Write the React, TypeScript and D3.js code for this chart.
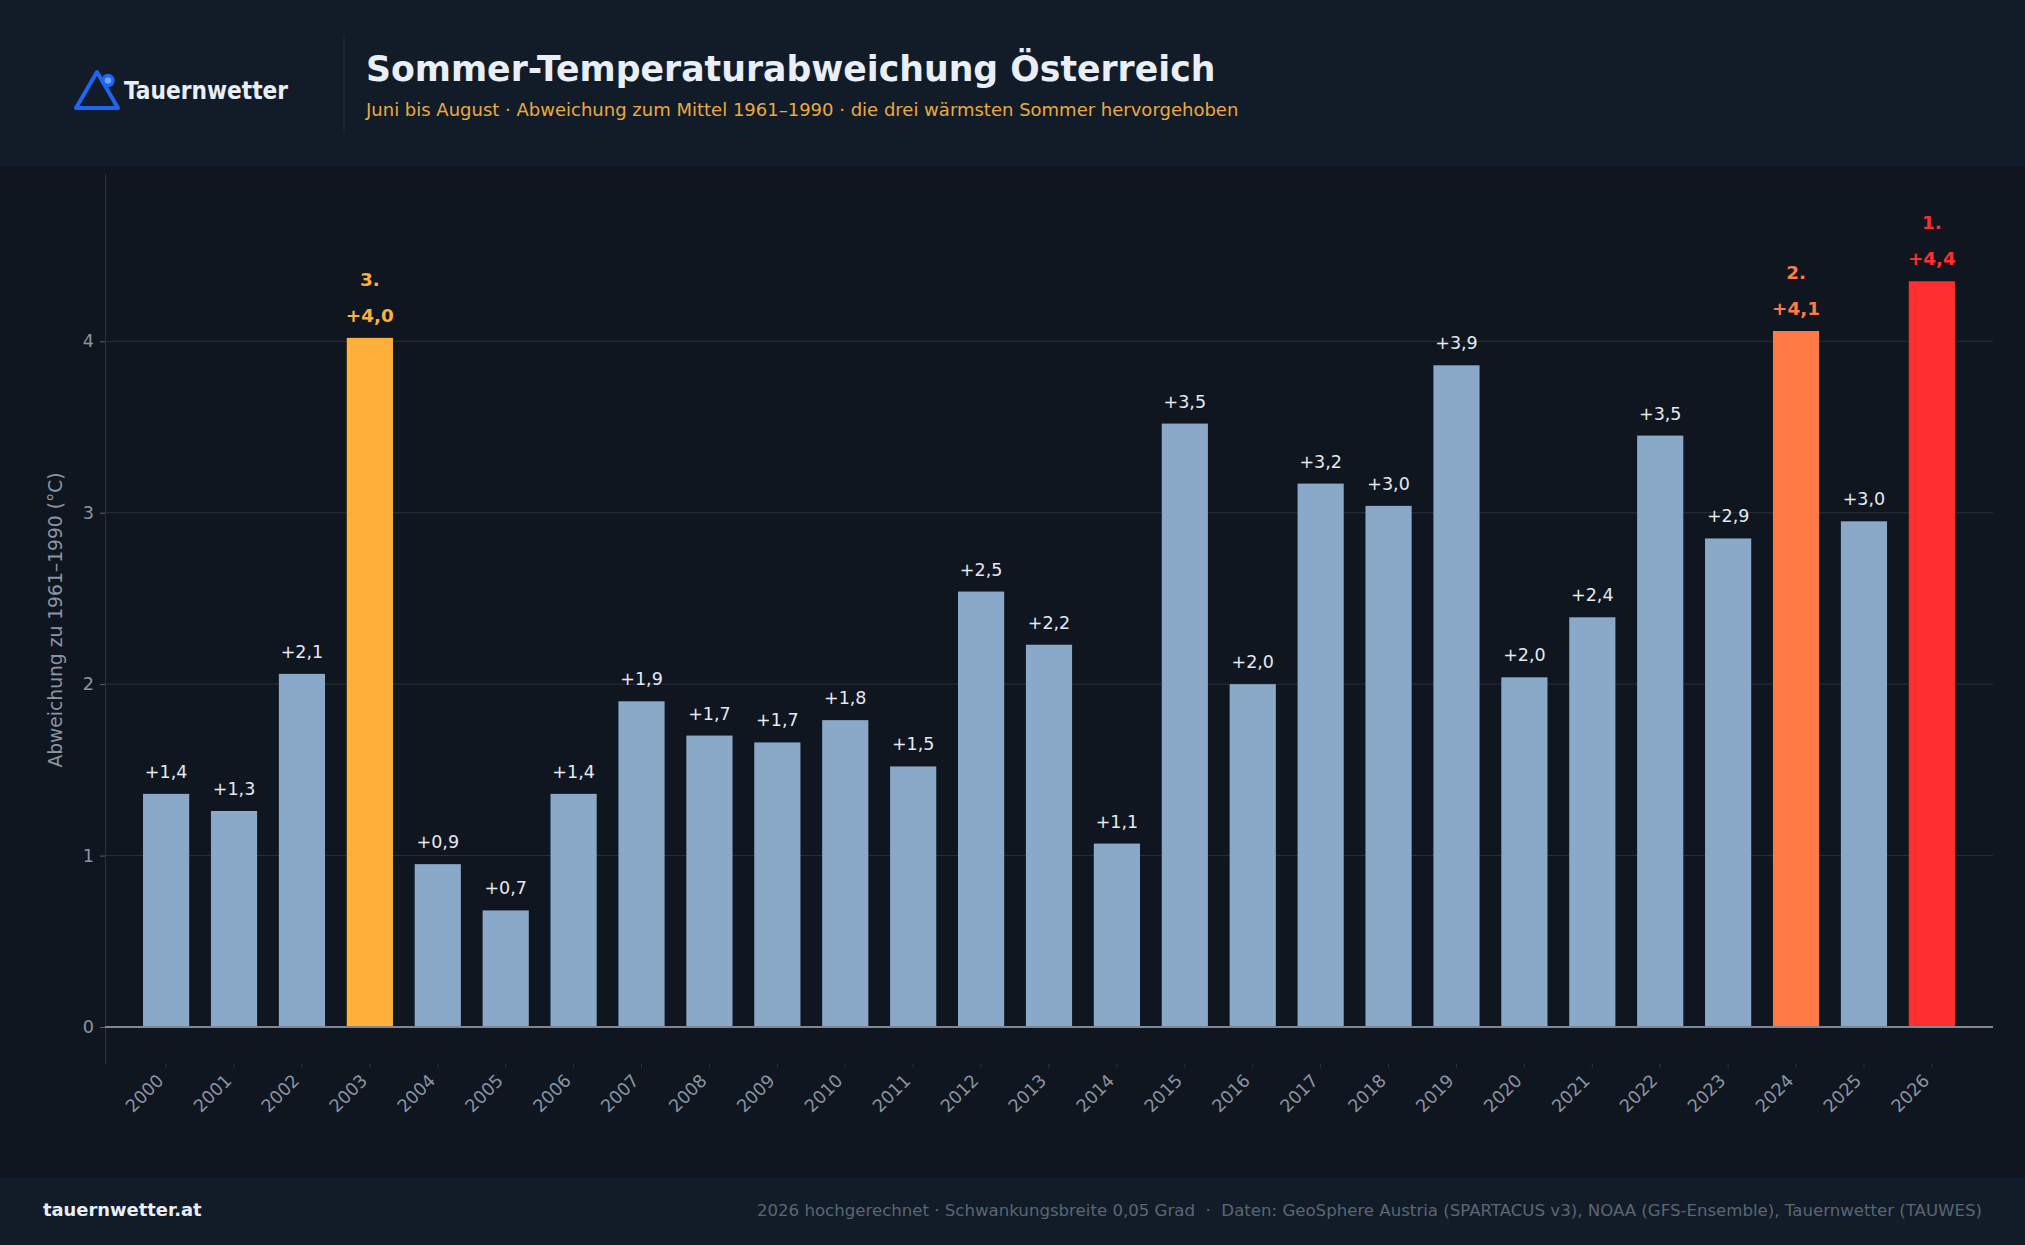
import { useEffect, useRef } from "react";
import * as d3 from "d3";

const years = [
  "2000", "2001", "2002", "2003", "2004", "2005", "2006", "2007", "2008",
  "2009", "2010", "2011", "2012", "2013", "2014", "2015", "2016", "2017",
  "2018", "2019", "2020", "2021", "2022", "2023", "2024", "2025", "2026",
];
const anomalies = [
  1.36, 1.26, 2.06, 4.02, 0.95, 0.68, 1.36, 1.9, 1.7, 1.66, 1.79, 1.52, 2.54,
  2.23, 1.07, 3.52, 2.0, 3.17, 3.04, 3.86, 2.04, 2.39, 3.45, 2.85, 4.06, 2.95,
  4.35,
];
const valueLabels = [
  "+1,4", "+1,3", "+2,1", "+4,0", "+0,9", "+0,7", "+1,4", "+1,9", "+1,7",
  "+1,7", "+1,8", "+1,5", "+2,5", "+2,2", "+1,1", "+3,5", "+2,0", "+3,2",
  "+3,0", "+3,9", "+2,0", "+2,4", "+3,5", "+2,9", "+4,1", "+3,0", "+4,4",
];
const ranks: Record<string, { label: string; color: string }> = {
  "2026": { label: "1.", color: "#ff2f2f" },
  "2024": { label: "2.", color: "#ff7a45" },
  "2003": { label: "3.", color: "#ffb03b" },
};
const yTicks = [0, 1, 2, 3, 4];

const WIDTH = 2025;
const HEIGHT = 1245;
const FONT = "'DejaVu Sans', sans-serif";

export default function App() {
  const svgRef = useRef<SVGSVGElement>(null);

  useEffect(() => {
    if (!svgRef.current) return;
    const svg = d3.select(svgRef.current);
    svg.selectAll("*").remove();

    svg.append("rect").attr("width", WIDTH).attr("height", HEIGHT).attr("fill", "#0f161f");
    svg.append("rect").attr("width", WIDTH).attr("height", 167).attr("fill", "#121c29");
    svg.append("rect").attr("y", 1177).attr("width", WIDTH).attr("height", 68).attr("fill", "#121c29");

    // Header
    svg.append("line")
      .attr("x1", 344).attr("x2", 344).attr("y1", 35).attr("y2", 133)
      .attr("stroke", "#222c39").attr("stroke-width", 1);

    const logo = svg.append("g").attr("fill", "none").attr("stroke", "#1c66f2");
    logo.append("path")
      .attr("d", "M97 72 L76 108 L118 108 Z")
      .attr("stroke-width", 4)
      .attr("stroke-linejoin", "round");
    logo.append("circle")
      .attr("cx", 108).attr("cy", 80.5).attr("r", 6.7)
      .attr("fill", "#1c66f2").attr("stroke", "none");
    logo.append("circle")
      .attr("cx", 108).attr("cy", 80.5).attr("r", 3.3)
      .attr("fill", "#6ea3ff").attr("stroke", "none");

    svg.append("text")
      .attr("x", 124).attr("y", 99)
      .attr("font-family", "'DejaVu Sans Condensed', 'DejaVu Sans', sans-serif")
      .attr("font-stretch", "condensed")
      .attr("font-size", 24.2).attr("font-weight", 700)
      .attr("fill", "#e9eef7")
      .text("Tauernwetter");

    svg.append("text")
      .attr("x", 366).attr("y", 81)
      .attr("font-family", FONT).attr("font-size", 34.7).attr("font-weight", 700)
      .attr("fill", "#e9eef7")
      .text("Sommer-Temperaturabweichung Österreich");

    svg.append("text")
      .attr("x", 366).attr("y", 116)
      .attr("font-family", FONT).attr("font-size", 18)
      .attr("fill", "#eca93f")
      .text("Juni bis August · Abweichung zum Mittel 1961–1990 · die drei wärmsten Sommer hervorgehoben");

    // Scales
    const x = d3.scaleBand<string>()
      .domain(years)
      .range([105, 1993])
      .paddingInner(0.32)
      .paddingOuter(0.56);

    const y = d3.scaleLinear().domain([0, 4]).range([1027, 341.3]);
    const plotBottom = 1064;
    const plotTop = 174;

    // Grid
    svg.append("g")
      .selectAll("line")
      .data(yTicks.slice(1))
      .join("line")
      .attr("x1", 105).attr("x2", 1993)
      .attr("y1", (d) => y(d)).attr("y2", (d) => y(d))
      .attr("stroke", "#2a313b").attr("stroke-width", 1);

    // Bars
    svg.append("g")
      .selectAll("rect")
      .data(years)
      .join("rect")
      .attr("x", (d) => x(d) ?? 0)
      .attr("width", x.bandwidth())
      .attr("y", (_, i) => y(anomalies[i]))
      .attr("height", (_, i) => y(0) - y(anomalies[i]))
      .attr("fill", (d) => ranks[d]?.color ?? "#8aa8c8");

    // Y axis
    const yAxis = svg.append("g")
      .attr("transform", "translate(105,0)")
      .call(d3.axisLeft(y).tickValues(yTicks).tickSize(5).tickPadding(6).tickFormat((d) => String(d)));
    yAxis.select(".domain").remove();
    yAxis.selectAll("line").attr("stroke", "#59626e");
    yAxis.selectAll("text")
      .attr("fill", "#8b95a3")
      .attr("font-family", FONT)
      .attr("font-size", 17.6);

    svg.append("line")
      .attr("x1", 105.5).attr("x2", 105.5).attr("y1", plotTop).attr("y2", plotBottom)
      .attr("stroke", "#2a323d").attr("stroke-width", 1);

    // X axis
    const xAxis = svg.append("g")
      .attr("transform", `translate(0,${plotBottom})`)
      .call(d3.axisBottom(x).tickSize(4).tickPadding(6));
    xAxis.select(".domain").remove();
    xAxis.selectAll("line").attr("stroke", "#2a323d");
    xAxis.selectAll("text")
      .attr("fill", "#8b95a3")
      .attr("font-family", FONT)
      .attr("font-size", 17.6)
      .attr("text-anchor", "end")
      .attr("dx", -13.6)
      .attr("dy", 1.5)
      .attr("transform", "rotate(-45)");

    // Zero line
    svg.append("line")
      .attr("x1", 105).attr("x2", 1993)
      .attr("y1", y(0)).attr("y2", y(0))
      .attr("stroke", "#7f8794").attr("stroke-width", 2);

    // Value labels
    svg.append("g")
      .selectAll("text")
      .data(years)
      .join("text")
      .attr("x", (d) => (x(d) ?? 0) + x.bandwidth() / 2)
      .attr("y", (_, i) => y(anomalies[i]) - 16)
      .attr("text-anchor", "middle")
      .attr("font-family", FONT)
      .attr("font-size", (d) => (ranks[d] ? 18.4 : 17.5))
      .attr("font-weight", (d) => (ranks[d] ? 700 : 400))
      .attr("fill", (d) => ranks[d]?.color ?? "#e4e9f2")
      .text((_, i) => valueLabels[i]);

    // Rank labels
    svg.append("g")
      .selectAll("text")
      .data(years.filter((d) => ranks[d]))
      .join("text")
      .attr("x", (d) => (x(d) ?? 0) + x.bandwidth() / 2)
      .attr("y", (d) => y(anomalies[years.indexOf(d)]) - 52)
      .attr("text-anchor", "middle")
      .attr("font-family", FONT)
      .attr("font-size", 18.4)
      .attr("font-weight", 700)
      .attr("fill", (d) => ranks[d].color)
      .text((d) => ranks[d].label);

    // Y axis title
    svg.append("text")
      .attr("transform", "translate(62,620) rotate(-90)")
      .attr("text-anchor", "middle")
      .attr("font-family", FONT)
      .attr("font-size", 18.7)
      .attr("fill", "#8b95a3")
      .text("Abweichung zu 1961–1990 (°C)");

    // Footer
    svg.append("text")
      .attr("x", 43).attr("y", 1216)
      .attr("font-family", FONT).attr("font-size", 17.9).attr("font-weight", 700)
      .attr("fill", "#e9eef7")
      .text("tauernwetter.at");

    svg.append("text")
      .attr("x", 1982).attr("y", 1216)
      .attr("text-anchor", "end")
      .attr("font-family", FONT).attr("font-size", 16.6)
      .attr("fill", "#5c6672")
      .style("white-space", "pre")
      .text("2026 hochgerechnet · Schwankungsbreite 0,05 Grad  ·  Daten: GeoSphere Austria (SPARTACUS v3), NOAA (GFS-Ensemble), Tauernwetter (TAUWES)");
  }, []);

  return (
    <svg
      ref={svgRef}
      width={WIDTH}
      height={HEIGHT}
      style={{ position: "absolute", left: 0, top: 0, display: "block" }}
    />
  );
}
